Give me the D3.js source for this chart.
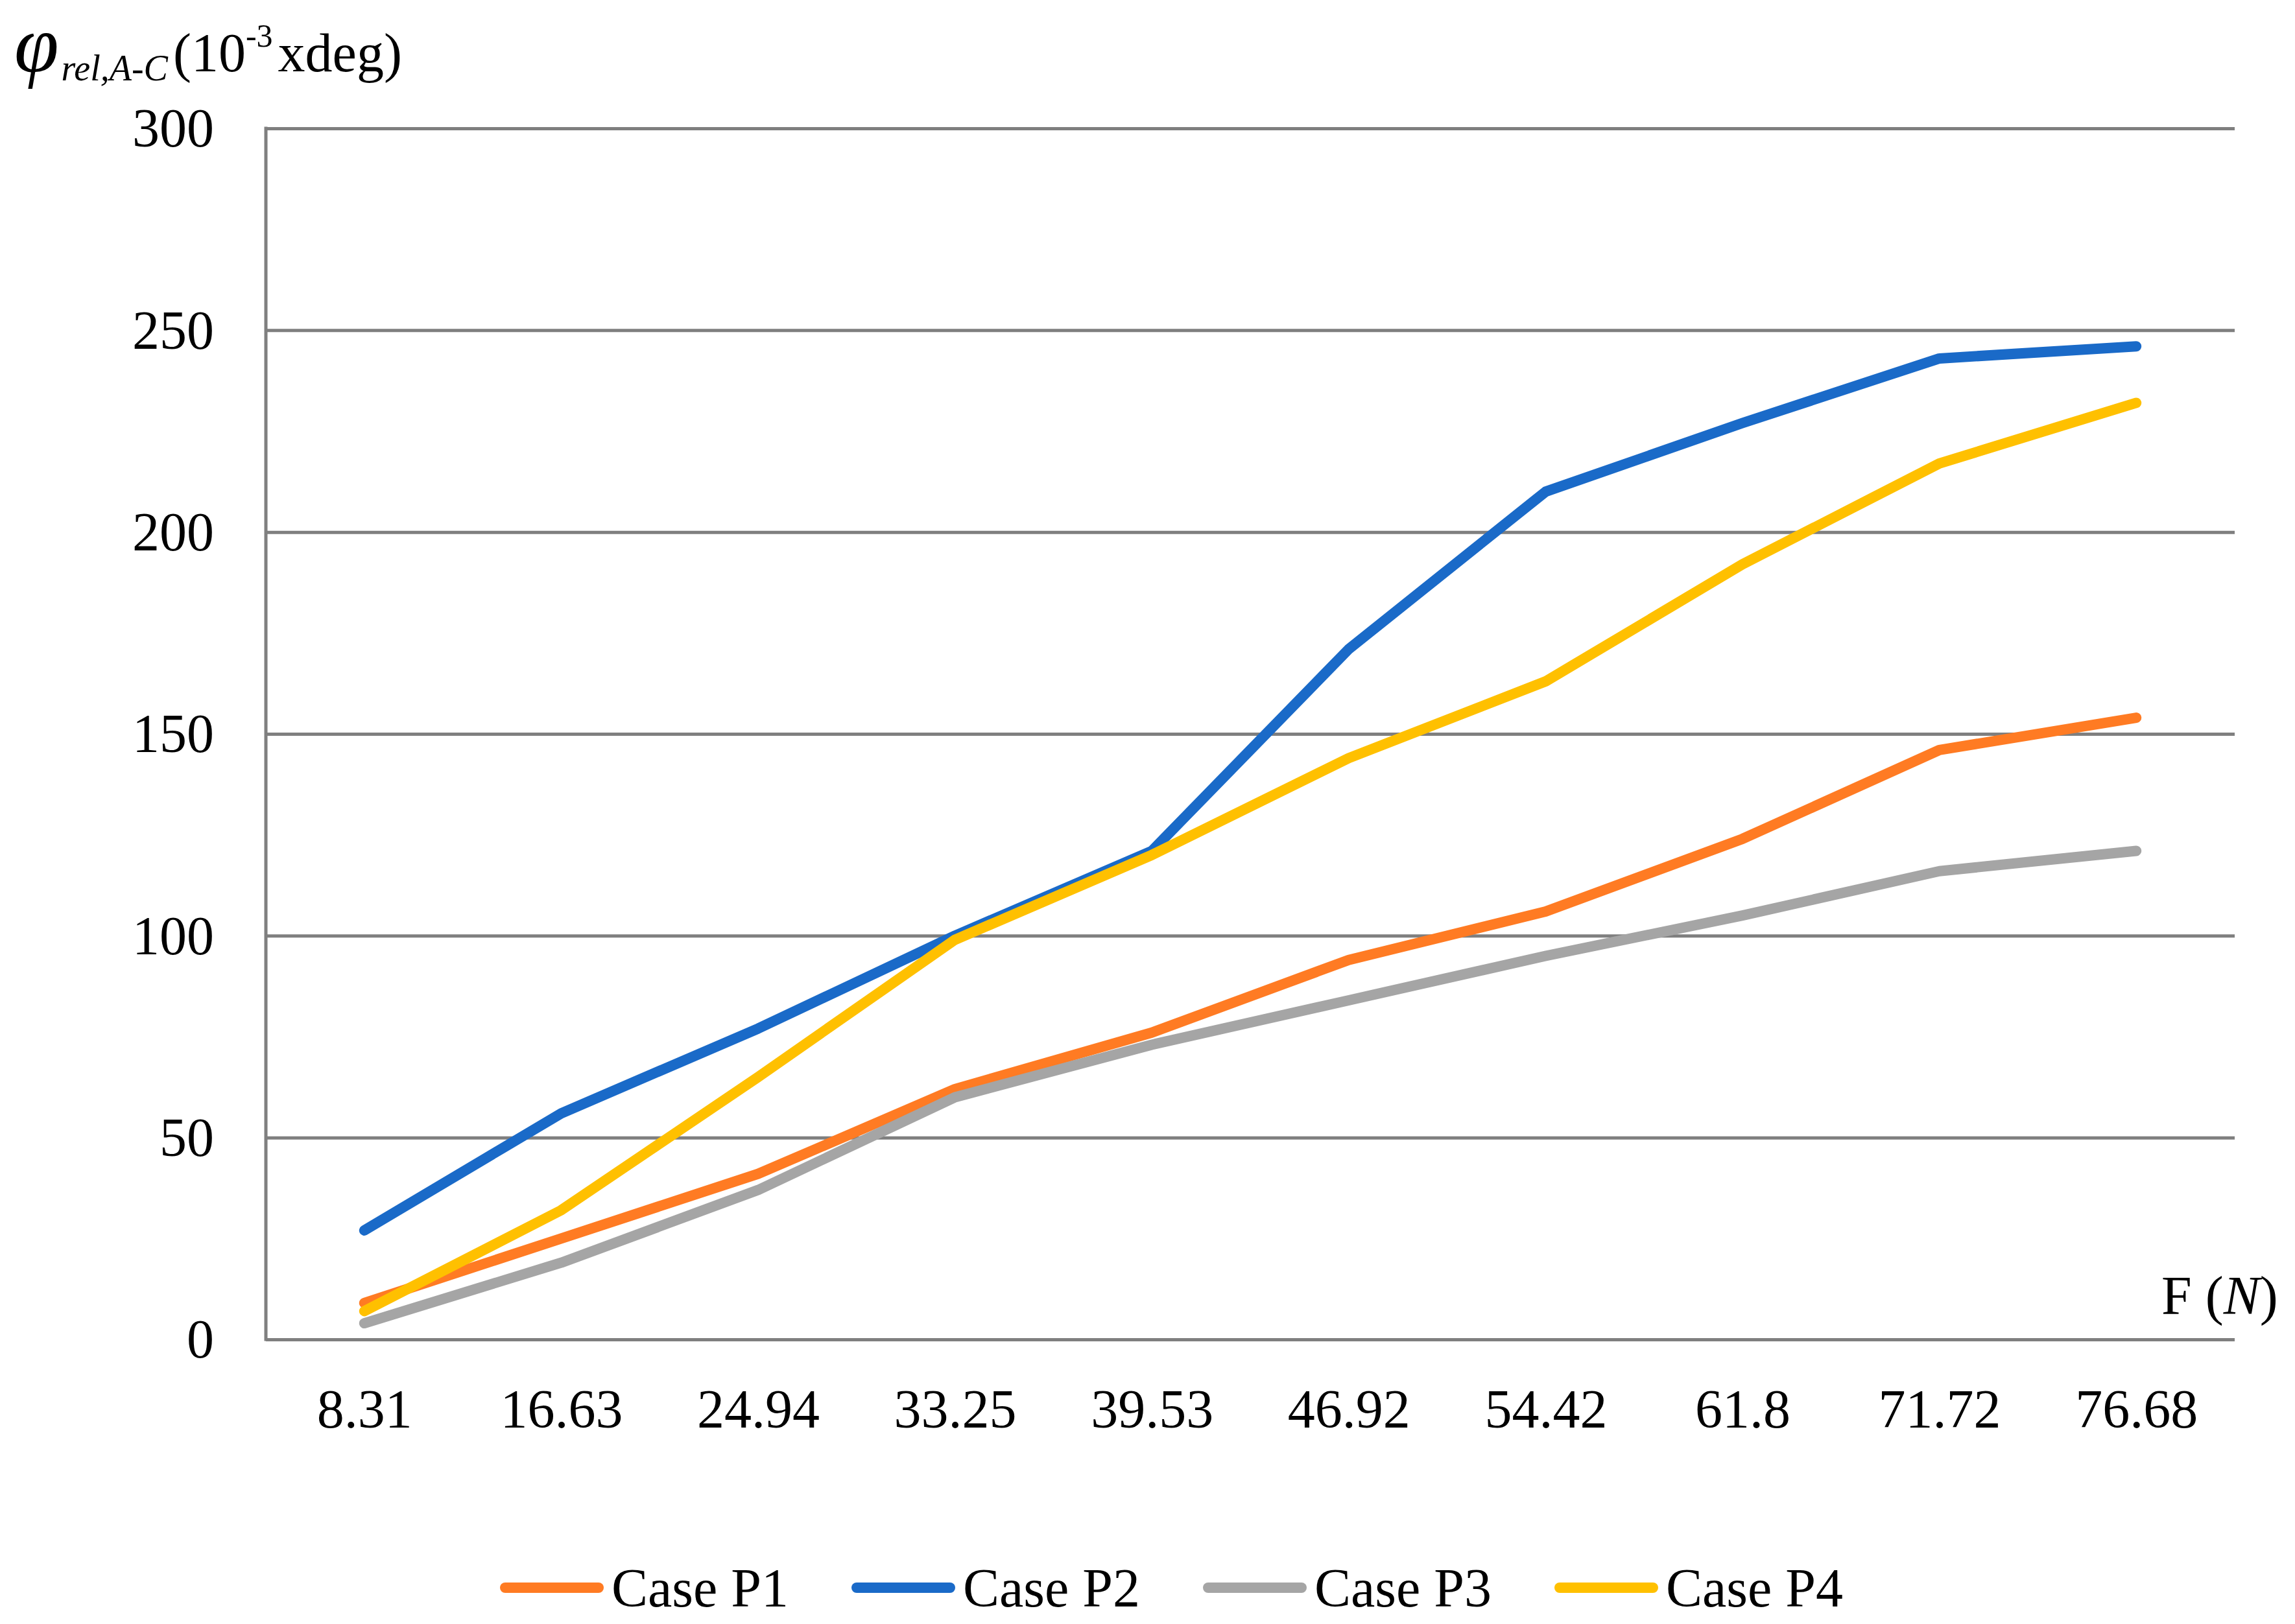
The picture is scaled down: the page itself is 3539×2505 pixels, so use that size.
<!DOCTYPE html>
<html>
<head>
<meta charset="utf-8">
<script src="https://cdn.jsdelivr.net/npm/d3@7"></script>
<style>
  html, body { margin: 0; padding: 0; background: #fff; }
  svg { display: block; }
  text { font-family: "Liberation Serif", "DejaVu Serif", serif; fill: #000; }
</style>
</head>
<body>
<svg id="chart" width="3539" height="2505"></svg>
<script>
// ---- data ----
const categories = ["8.31", "16.63", "24.94", "33.25", "39.53", "46.92", "54.42", "61.8", "71.72", "76.68"];
const seriesNames = ["Case P1", "Case P2", "Case P3", "Case P4"];
const caseP1 = [9, 25, 41, 62, 76, 94, 106, 124, 146, 154];
const caseP2 = [27, 56, 77, 100, 121, 171, 210, 227, 243, 246];
const caseP3 = [4, 19, 37, 60, 73, 84, 95, 105, 116, 121];
const caseP4 = [7, 32, 65, 99, 120, 144, 163, 192, 217, 232];
const yTicks = [0, 50, 100, 150, 200, 250, 300];
const colors = ["#FF7B23", "#1A6AC8", "#A5A5A5", "#FFC000"];

const series = [caseP1, caseP2, caseP3, caseP4].map((v, i) => ({ name: seriesNames[i], values: v, color: colors[i] }));

// ---- layout ----
const svg = d3.select("#chart");
const mLeft = 410, mRight = 3446, mTop = 198, mBottom = 2066;

const x = d3.scalePoint().domain(categories).range([mLeft, mRight]).padding(0.5);
const y = d3.scaleLinear().domain([0, 300]).range([mBottom, mTop]);

// gridlines
const yAxis = d3.axisLeft(y).tickValues(yTicks).tickSize(-(mRight - mLeft)).tickFormat(d3.format("d")).tickPadding(80);
const gy = svg.append("g").attr("transform", `translate(${mLeft},0)`).call(yAxis);
gy.select(".domain").remove();
gy.selectAll(".tick line").attr("stroke", "#7f7f7f").attr("stroke-width", 5);
gy.selectAll(".tick text").attr("font-size", 84).attr("font-family", "Liberation Serif").attr("fill", "#000").attr("dy", "0.33em");

// left axis line
svg.append("line").attr("x1", mLeft).attr("x2", mLeft).attr("y1", mTop - 2.5).attr("y2", mBottom + 2.5)
  .attr("stroke", "#7f7f7f").attr("stroke-width", 5);

// x axis labels
const xAxis = d3.axisBottom(x).tickSize(0).tickPadding(76);
const gx = svg.append("g").attr("transform", `translate(0,${mBottom})`).call(xAxis);
gx.select(".domain").remove();
gx.selectAll(".tick text").attr("font-size", 84).attr("font-family", "Liberation Serif").attr("fill", "#000");

// lines
const line = d3.line().x((d, i) => x(categories[i])).y(d => y(d));
svg.append("g").selectAll("path").data(series).join("path")
  .attr("d", d => line(d.values))
  .attr("fill", "none")
  .attr("stroke", d => d.color)
  .attr("stroke-width", 16)
  .attr("stroke-linejoin", "round")
  .attr("stroke-linecap", "round");

// y title
const yt = svg.append("text").attr("x", 22).attr("y", 110).attr("font-size", 84);
yt.append("tspan").attr("font-style", "italic").attr("font-size", 124).text("φ");
yt.append("tspan").attr("font-style", "italic").attr("font-size", 56).attr("dy", 14).attr("dx", 4).text("rel,A-C");
yt.append("tspan").attr("dy", -14).attr("dx", 8).text("(10");
yt.append("tspan").attr("font-size", 50).attr("dy", -38).text("-3");
yt.append("tspan").attr("dy", 38).attr("dx", 8).text("xdeg)");

// x title
const xt = svg.append("text").attr("x", 3333).attr("y", 2027).attr("font-size", 84);
xt.append("tspan").text("F (");
xt.append("tspan").attr("font-style", "italic").text("N");
xt.append("tspan").text(")");

// legend
const legendStart = 771, legendStep = 542, legendY = 2449;
const lg = svg.append("g").selectAll("g").data(series).join("g")
  .attr("transform", (d, i) => `translate(${legendStart + i * legendStep},${legendY})`);
lg.append("line").attr("x1", 8).attr("x2", 152).attr("y1", 0).attr("y2", 0)
  .attr("stroke", d => d.color).attr("stroke-width", 16).attr("stroke-linecap", "round");
lg.append("text").attr("x", 172).attr("y", 29).attr("font-size", 84).text(d => d.name);
</script>
</body>
</html>
